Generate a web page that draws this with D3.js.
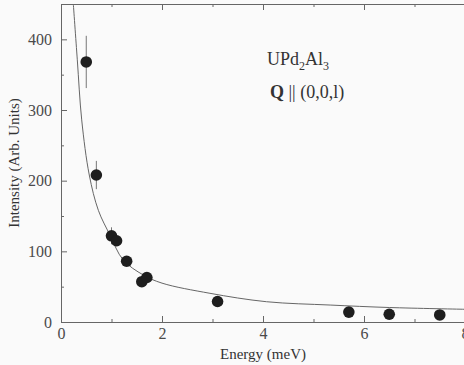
<!DOCTYPE html>
<html>
<head>
<meta charset="utf-8">
<script src="https://cdn.jsdelivr.net/npm/d3@7/dist/d3.min.js"></script>
<style>
  html, body { margin: 0; padding: 0; background: #fafafa; }
  svg, svg text { font-family: 'Liberation Serif', 'DejaVu Serif', serif !important; }
</style>
</head>
<body>
<div id="chart"></div>
<script>
// measured points
const energy = [0.5, 0.7, 1.0, 1.1, 1.3, 1.6, 1.7, 3.1, 5.7, 6.5, 7.5]
const intensity = [368, 208, 122, 115, 86, 57, 63, 29, 14, 11, 10]
const errors = [37, 20, 12, 0, 0, 0, 0, 0, 0, 0, 0]

// fitted line
const fitEnergy = [0.244, 0.323, 0.41, 0.56, 0.74, 0.97, 1.23, 1.63, 2.0, 2.95, 4.07, 5.33, 6.5, 8.0]
const fitIntensity = [450, 371, 286, 208, 158, 123, 88, 66.5, 55, 40.6, 28.7, 24, 20.5, 18]

const xMajorTicks = [0, 2, 4, 6, 8]
const xMinorTicks = [1, 3, 5, 7]
const yMajorTicks = [0, 100, 200, 300, 400]
const yMinorTicks = [50, 150, 250, 350]

const width = 464
const height = 365
const margin = { top: 4, right: -1, bottom: 43, left: 61 }

const svg = d3.select('#chart')
  .append('svg')
  .attr('width', width)
  .attr('height', height)

const x = d3.scaleLinear().domain([0, 8]).range([margin.left, width - margin.right])
const y = d3.scaleLinear().domain([0, 450]).range([height - margin.bottom, margin.top])

const axisColor = '#666'

const styleAxis = g => {
  g.attr('font-family', null)
  g.select('.domain').attr('stroke', axisColor)
  g.selectAll('.tick line').attr('stroke', axisColor)
  g.selectAll('.tick text').attr('fill', '#4a4a4a').attr('font-size', 16)
}

// bottom axis
svg.append('g')
  .attr('transform', `translate(0,${y(0)})`)
  .call(d3.axisBottom(x).tickValues(xMajorTicks).tickSize(-6).tickPadding(6).tickFormat(d3.format('d')))
  .call(styleAxis)

svg.append('g')
  .attr('transform', `translate(0,${y(0)})`)
  .call(d3.axisBottom(x).tickValues(xMinorTicks).tickSize(-3).tickFormat(''))
  .call(styleAxis)
  .call(g => g.select('.domain').remove())

// top axis
svg.append('g')
  .attr('transform', `translate(0,${y(450)})`)
  .call(d3.axisTop(x).tickValues(xMajorTicks).tickSize(-6).tickFormat(''))
  .call(styleAxis)

svg.append('g')
  .attr('transform', `translate(0,${y(450)})`)
  .call(d3.axisTop(x).tickValues(xMinorTicks).tickSize(-3).tickFormat(''))
  .call(styleAxis)
  .call(g => g.select('.domain').remove())

// left axis
svg.append('g')
  .attr('transform', `translate(${x(0)},0)`)
  .call(d3.axisLeft(y).tickValues(yMajorTicks).tickSize(-6).tickPadding(9))
  .call(styleAxis)

svg.append('g')
  .attr('transform', `translate(${x(0)},0)`)
  .call(d3.axisLeft(y).tickValues(yMinorTicks).tickSize(-3).tickFormat(''))
  .call(styleAxis)
  .call(g => g.select('.domain').remove())

// fit curve
const line = d3.line()
  .x((d, i) => x(fitEnergy[i]))
  .y(d => y(d))
  .curve(d3.curveCatmullRom.alpha(0.5))

svg.append('path')
  .datum(fitIntensity)
  .attr('d', line)
  .attr('fill', 'none')
  .attr('stroke', '#666')
  .attr('stroke-width', 1)

// error bars
svg.append('g')
  .selectAll('line')
  .data(energy.map((e, i) => [e, intensity[i], errors[i]]).filter(d => d[2] > 0))
  .enter()
  .append('line')
  .attr('x1', d => x(d[0]))
  .attr('x2', d => x(d[0]))
  .attr('y1', d => y(d[1] - d[2]))
  .attr('y2', d => y(d[1] + d[2]))
  .attr('stroke', '#777')
  .attr('stroke-width', 1)

// points
svg.append('g')
  .selectAll('circle')
  .data(energy.map((e, i) => [e, intensity[i]]))
  .enter()
  .append('circle')
  .attr('cx', d => x(d[0]))
  .attr('cy', d => y(d[1]))
  .attr('r', 5.8)
  .attr('fill', '#1e1e1e')

// axis titles
svg.append('text')
  .attr('x', x(4))
  .attr('y', 359)
  .attr('text-anchor', 'middle')
  .attr('font-size', 15)
  .attr('fill', '#333')
  .text('Energy (meV)')

svg.append('text')
  .attr('transform', `translate(19,${163}) rotate(-90)`)
  .attr('text-anchor', 'middle')
  .attr('font-size', 15)
  .attr('fill', '#333')
  .text('Intensity (Arb. Units)')

// annotation
const label = svg.append('text')
  .attr('x', 267)
  .attr('y', 65)
  .attr('font-size', 18)
  .attr('fill', '#333')
label.append('tspan').text('UPd')
label.append('tspan').attr('font-size', 12).attr('dy', 5).text('2')
label.append('tspan').attr('dy', -5).text('Al')
label.append('tspan').attr('font-size', 12).attr('dy', 5).text('3')

const qLabel = svg.append('text')
  .attr('x', 270)
  .attr('y', 98)
  .attr('font-size', 18)
  .attr('fill', '#333')
qLabel.append('tspan').attr('font-weight', 'bold').text('Q')
qLabel.append('tspan').text(' || (0,0,l)')
</script>
</body>
</html>
